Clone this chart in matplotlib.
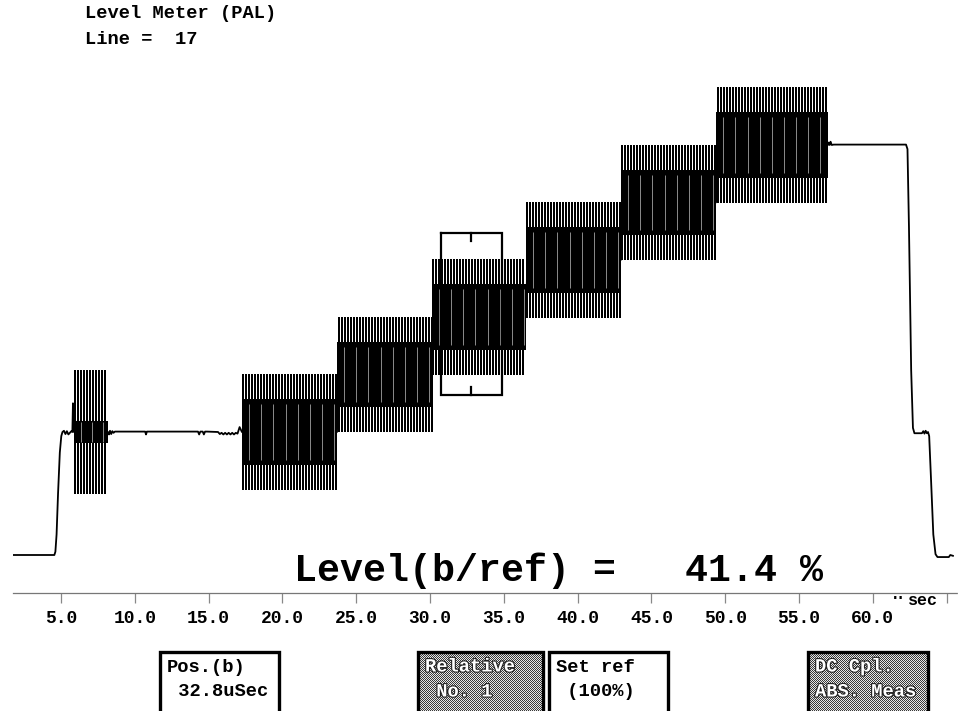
import numpy as np
import matplotlib
matplotlib.use("Agg")
import matplotlib.pyplot as plt
from matplotlib.patches import Rectangle
from matplotlib.transforms import Bbox
import matplotlib.patheffects as pe

# ---------------- signal description (time in us, level in mV) ----------------
# luminance / sync trace, piecewise linear
trace_t = [1.75, 4.55, 4.62, 4.70, 4.80, 4.92, 5.02, 5.10, 5.20, 5.30, 5.40, 5.50,
           5.60, 5.70, 5.77, 5.81, 5.85, 5.88,
           8.18, 8.25, 8.32, 8.40, 8.48, 8.56, 8.65,
           10.70, 10.76, 10.82,
           14.28, 14.36, 14.44, 14.60, 14.68, 14.76, 14.89,
           15.64, 15.76, 15.88, 16.00, 16.12, 16.24, 16.36, 16.48, 16.60, 16.72,
           16.84, 16.96, 17.10, 17.26,
           23.70, 23.80, 30.13, 30.23, 36.50, 36.60, 42.94, 43.04, 49.38, 49.48,
           56.96, 57.02, 57.08, 57.14, 57.22, 57.35,
           62.25, 62.35, 62.45, 62.60, 62.72, 62.82,
           63.33, 63.42, 63.50, 63.58, 63.66, 63.74, 63.82, 63.95, 64.10, 64.25,
           64.38, 64.50, 65.15, 65.25, 65.43]
trace_mv = [-300, -300, -292, -250, -150, -50, -10, 0, 3, -5, 2, -6,
            -2, 2, 0, 70, 5, 0,
            0, -6, 3, -5, 2, -2, 1,
            1, -6, 1,
            1, -6, 1, 1, -6, 1, 1,
            0, -5, -2, -6, -2, -6, -2, -6, -2, -6,
            -2, -4, 12, 0,
            0, 140, 140, 280, 280, 420, 420, 560, 560, 700,
            700, 706, 700, 708, 700, 701,
            701, 690, 500, 150, 10, -3,
            -3, 2, -4, 3, -3, 0, -10, -120, -250, -298,
            -305, -305, -305, -300, -302]

# colour burst
burst_span = [5.88, 8.18]
burst_level = 0
burst_peak = 152
burst_core = 28

# modulated staircase
step_edges = [17.26, 23.70, 30.13, 36.50, 42.94, 49.38, 56.96]
step_levels = [0, 140, 280, 420, 560, 700]
step_peak = 141
step_core = 80

# measurement gate
pos_b = 32.8
gate_width = 4.1
gate_low, gate_high = 90, 485
level_ratio = 41.4

tick_values = [5, 10, 15, 20, 25, 30, 35, 40, 45, 50, 55, 60, 65]
tick_labels = ['5.0', '10.0', '15.0', '20.0', '25.0', '30.0', '35.0', '40.0',
               '45.0', '50.0', '55.0', '60.0', '']
header_lines = ['Level Meter (PAL)', 'Line =  17']
softkey_text = [('Pos.(b)', f' {pos_b:.1f}uSec'),
                ('Relative', ' No. 1'),
                ('Set ref', ' (100%)'),
                ('DC Cpl.', 'ABS. Meas')]

# ---------------- layout ----------------
W, H = 961, 711
MONO = 'Liberation Mono'
fig = plt.figure(figsize=(W / 100, H / 100), dpi=100)
fig.patch.set_facecolor('white')


def fx(px):
    return px / W


def fy(py):
    return 1 - py / H


ax_left, ax_right, ax_top, ax_bottom = 13, 957, 60, 593
ax = fig.add_axes([fx(ax_left), fy(ax_bottom), (ax_right - ax_left) / W,
                   (ax_bottom - ax_top) / H])
px_per_us, px_t0 = 14.76, -12.8
ax.set_xlim((ax_left - px_t0) / px_per_us, (ax_right - px_t0) / px_per_us)
blank_px, px_per_mv = 432, 0.41
ax.set_ylim((blank_px - ax_bottom) / px_per_mv, (blank_px - ax_top) / px_per_mv)

for s in ['top', 'left', 'right']:
    ax.spines[s].set_visible(False)
ax.spines['bottom'].set_color('#777777')
ax.spines['bottom'].set_linestyle((0, (2, 1)))
ax.spines['bottom'].set_linewidth(0.9)
ax.set_yticks([])
ax.set_xticks(tick_values)
ax.set_xticklabels(tick_labels)
ax.tick_params(axis='x', direction='out', length=7.5, width=0.9, color='#888888',
               pad=5, labelsize=13)
for lab in ax.get_xticklabels():
    lab.set_fontfamily(MONO)
    lab.set_fontweight('bold')

# luminance trace
ax.plot(trace_t, trace_mv, color='black', lw=1.3, zorder=3)

# display sampling: one drawn stroke every 3 screen pixels
stroke_pitch = 3 / px_per_us


def subcarrier(t0, t1, level, peak, core, gap_pitch, spike_lw):
    ax.fill_between([t0, t1], [level - core] * 2, [level + core] * 2,
                    color='black', lw=0, zorder=3)
    spikes = np.arange(t0 + stroke_pitch / 2, t1, stroke_pitch)
    ax.vlines(spikes, level - peak, level + peak, color='black', lw=spike_lw,
              zorder=3, antialiased=False)
    if gap_pitch:
        gaps = np.arange(t0 + gap_pitch * 0.6, t1 - 0.1, gap_pitch)
        ax.vlines(gaps, level - core * 0.85, level + core * 0.85, color='white',
                  lw=0.45, zorder=4, alpha=0.85)


subcarrier(burst_span[0], burst_span[1], burst_level, burst_peak, burst_core,
           0.75, 1.4)
for i, lvl in enumerate(step_levels):
    subcarrier(step_edges[i], step_edges[i + 1], lvl, step_peak, step_core,
               0.82, 1.4)

# measurement gate around Pos.(b)
g0, g1 = pos_b - gate_width / 2, pos_b + gate_width / 2
ax.plot([g0, g1, g1, g0, g0], [gate_high, gate_high, gate_low, gate_low, gate_high],
        color='black', lw=1.6, zorder=5, solid_joinstyle='miter')
ax.plot([pos_b, pos_b], [gate_high, gate_high - 20], color='black', lw=1.6, zorder=5)
ax.plot([pos_b, pos_b], [gate_low, gate_low + 20], color='black', lw=1.6, zorder=5)

# header
fig.text(fx(85), fy(14), header_lines[0], family=MONO, weight='bold', fontsize=13.5,
         va='center', ha='left')
fig.text(fx(85), fy(40), header_lines[1], family=MONO, weight='bold', fontsize=13.5,
         va='center', ha='left')

# readout
fig.text(fx(294), fy(581), f'Level(b/ref) =   {level_ratio:.1f} %', family=MONO,
         weight='bold', fontsize=27.5, va='baseline', ha='left', zorder=6)

# time unit
u = fig.text(fx(893), fy(605), 'u', family=MONO, weight='bold', fontsize=12,
             va='baseline', ha='left')
u.set_clip_box(Bbox([[885, H - 599], [905, H - 585]]))
u.set_clip_on(True)
fig.text(fx(908), fy(605), 'sec', family=MONO, weight='bold', fontsize=12,
         va='baseline', ha='left')

# soft keys
key_x = [(160, 279), (418, 543), (549, 668), (808, 928)]
key_hatched = [False, True, False, True]
key_top = 652
for (l1, l2), (x0, x1), hatched in zip(softkey_text, key_x, key_hatched):
    if hatched:
        hgt = H - key_top
        wid = x1 - x0
        yy, xx = np.mgrid[0:hgt, 0:wid]
        pat = np.where((xx + yy) % 2 == 0, 0.22, 0.9)
        fig.figimage(pat, xo=x0, yo=0, origin='upper', cmap='gray', vmin=0, vmax=1,
                     zorder=1)
    fig.patches.append(Rectangle((fx(x0), fy(H + 10)), (x1 - x0) / W,
                                 (H + 10 - key_top) / H, transform=fig.transFigure,
                                 fill=False, ec='black', lw=2.4, zorder=2))
    kw = dict(family=MONO, weight='bold', fontsize=13.5, va='center', ha='left',
              zorder=3)
    if hatched:
        kw.update(color='white',
                  path_effects=[pe.withStroke(linewidth=1.6, foreground='#222222')])
    fig.text(fx(x0 + 7), fy(667), l1, **kw)
    fig.text(fx(x0 + 7), fy(692), l2, **kw)

fig.savefig('out.png', dpi=100, facecolor='white')
